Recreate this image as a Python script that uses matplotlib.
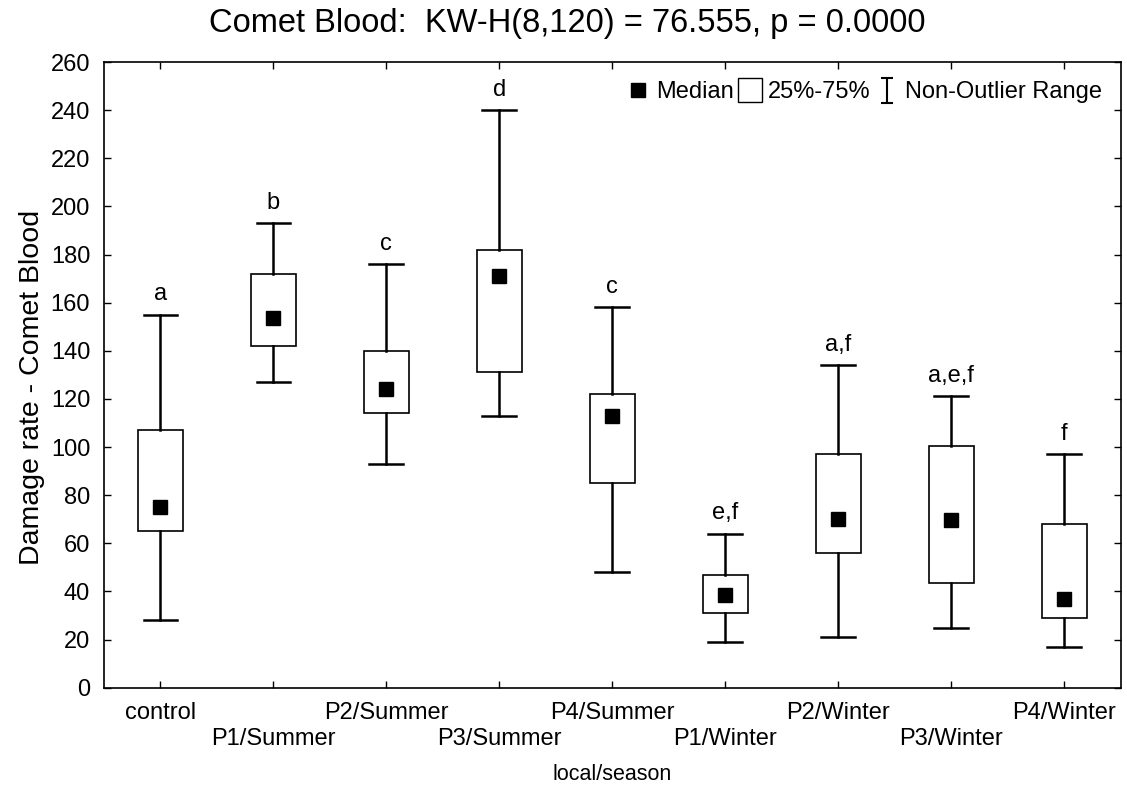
import matplotlib
matplotlib.use('Agg')
import matplotlib.pyplot as plt
from matplotlib.lines import Line2D
from matplotlib.path import Path

plt.rcParams['font.family'] = ['Liberation Sans', 'DejaVu Sans']

# values
groups = ['control', 'P1/Summer', 'P2/Summer', 'P3/Summer', 'P4/Summer',
          'P1/Winter', 'P2/Winter', 'P3/Winter', 'P4/Winter']
medians = [75, 153.5, 124, 171, 113, 38.5, 70, 69.5, 37]
q1 = [65, 142, 114, 131, 85, 31, 56, 43.5, 29]
q3 = [107, 172, 140, 182, 122, 47, 97, 100.5, 68]
whisk_lo = [28, 127, 93, 113, 48, 19, 21, 25, 17]
whisk_hi = [155, 193, 176, 240, 158, 64, 134, 121, 97]
letters = ['a', 'b', 'c', 'd', 'c', 'e,f', 'a,f', 'a,e,f', 'f']

fig = plt.figure(figsize=(11.27, 7.85), dpi=100)
ax = fig.add_axes([0.0923, 0.124, 0.902, 0.797])

stats = []
for i, g in enumerate(groups):
    stats.append({'med': medians[i], 'q1': q1[i], 'q3': q3[i],
                  'whislo': whisk_lo[i], 'whishi': whisk_hi[i], 'fliers': [], 'label': g})

bp = ax.bxp(stats, positions=range(len(groups)), widths=0.4, showcaps=True,
            patch_artist=True, manage_ticks=False,
            boxprops=dict(facecolor='white', edgecolor='black', linewidth=1.2),
            whiskerprops=dict(color='black', linewidth=1.8),
            capprops=dict(color='black', linewidth=1.8),
            medianprops=dict(linewidth=0))
for c in bp['caps']:
    xd = c.get_xdata()
    m = (xd[0] + xd[1]) / 2
    c.set_xdata([m - 0.15, m + 0.15])

ax.plot(range(len(groups)), medians, 's', color='black', markersize=9.5, zorder=5)

for i, t in enumerate(letters):
    ax.text(i, whisk_hi[i] + 4, t, ha='center', va='bottom', fontsize=17)

ax.set_xlim(-0.5, len(groups) - 0.5)
ax.set_ylim(0, 260)
ax.set_yticks(range(0, 261, 20))
ax.set_xticks(range(len(groups)))
ax.set_xticklabels([g if i % 2 == 0 else '\n' + g for i, g in enumerate(groups)],
                   linespacing=1.25)
ax.tick_params(direction='in', top=True, right=True, labelsize=17, length=5, width=1)
ax.tick_params(axis='x', pad=10)
ax.tick_params(axis='y', pad=10)
for s in ax.spines.values():
    s.set_linewidth(1.2)

ax.set_xlabel('local/season', fontsize=15.5)
ax.xaxis.set_label_coords(0.5, -0.122)
ax.set_ylabel('Damage rate - Comet Blood', fontsize=20.5)
ax.yaxis.set_label_coords(-0.058, 0.48)
fig.suptitle('Comet Blood:  KW-H(8,120) = 76.555, p = 0.0000', fontsize=23.5, x=0.503, y=0.99)

ibeam = Path([(-0.5, 1), (0.5, 1), (0, 1), (0, -1), (-0.5, -1), (0.5, -1)],
             [Path.MOVETO, Path.LINETO, Path.MOVETO, Path.LINETO, Path.MOVETO, Path.LINETO])
handles = [Line2D([], [], ls='', marker='s', color='black', markersize=10),
           Line2D([], [], ls='', marker='s', markerfacecolor='white', markeredgecolor='black',
                  markersize=17, markeredgewidth=1),
           Line2D([], [], ls='', marker=ibeam, color='black', markersize=18, markeredgewidth=1.5)]
ax.legend(handles, ['Median', '25%-75%', 'Non-Outlier Range'], loc='upper right', ncol=3,
          frameon=False, fontsize=17, handlelength=0.8, handletextpad=0.35,
          columnspacing=0.3, bbox_to_anchor=(1.0, 1.0), borderaxespad=0.4)

fig.savefig('out.png', dpi=100)
